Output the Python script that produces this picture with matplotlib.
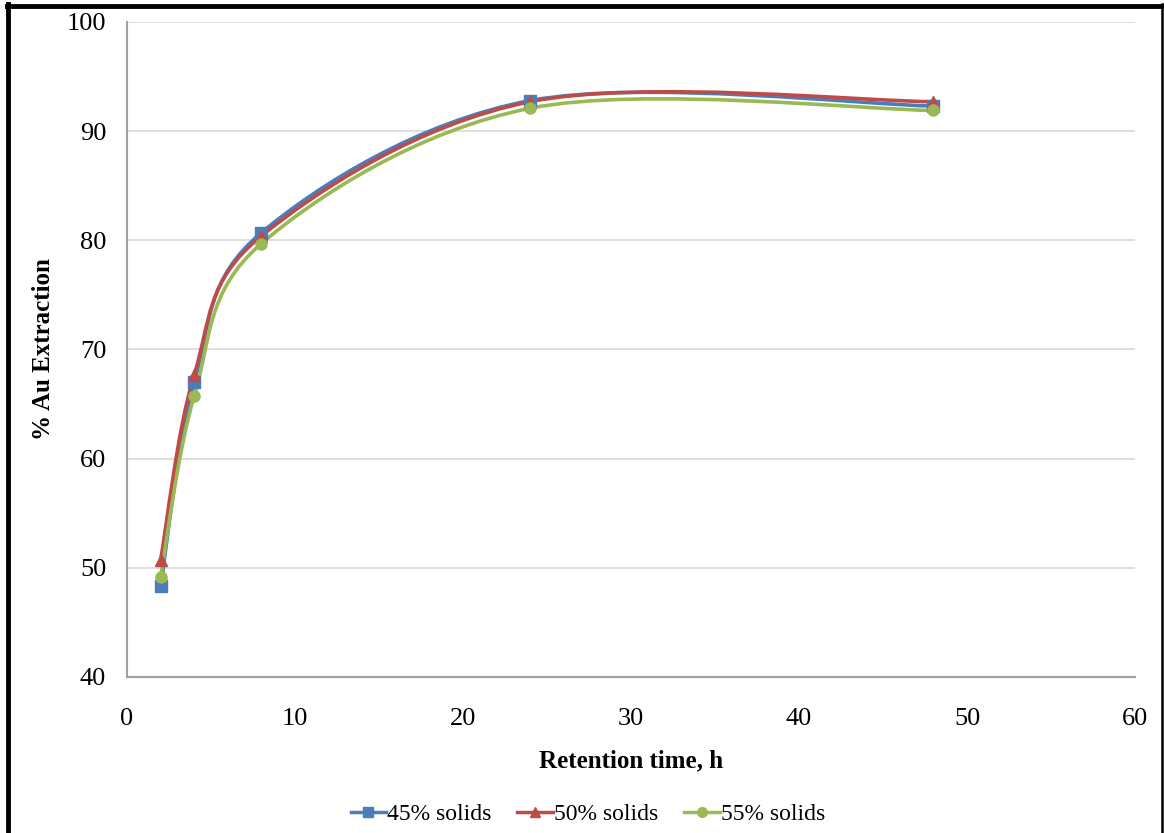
import numpy as np
import matplotlib
matplotlib.use('Agg')
import matplotlib.pyplot as plt
from matplotlib.path import Path
from matplotlib.patches import PathPatch
from matplotlib.lines import Line2D

plt.rcParams['font.family'] = ['Liberation Serif', 'DejaVu Serif']

# retention time (h) and % Au extraction per pulp density
time_h = [2, 4, 8, 24, 48]
solids_45 = [48.3, 67.0, 80.7, 92.8, 92.3]
solids_50 = [50.7, 67.7, 80.4, 92.7, 92.7]
solids_55 = [49.2, 65.7, 79.7, 92.1, 91.9]
series_labels = ['45% solids', '50% solids', '55% solids']


def smooth_path(xs, ys):
    # Excel-like smoothed line: cubic Bezier segments with Catmull-Rom control points
    pts = np.column_stack([xs, ys]).astype(float)
    n = len(pts)
    verts = [pts[0]]
    codes = [Path.MOVETO]
    for i in range(n - 1):
        p0 = pts[i - 1] if i > 0 else pts[i]
        p1 = pts[i]
        p2 = pts[i + 1]
        p3 = pts[i + 2] if i + 2 < n else pts[i + 1]
        c1 = p1 + (p2 - p0) / 6.0
        c2 = p2 - (p3 - p1) / 6.0
        verts += [c1, c2, p2]
        codes += [Path.CURVE4] * 3
    return Path(verts, codes)


fig = plt.figure(figsize=(11.64, 8.33), dpi=100)
ax = fig.add_axes([0.1091, 0.1873, 0.866, 0.7863])

colors = ['#4a7ebb', '#be4b48', '#98b954']
markers = ['s', '^', 'o']
msizes = [8, 9, 8]
data = [solids_45, solids_50, solids_55]

handles = []
for ys, c, m, ms, lab in zip(data, colors, markers, msizes, series_labels):
    patch = PathPatch(smooth_path(time_h, ys), facecolor='none', edgecolor=c,
                      lw=2.6, zorder=3, capstyle='round')
    ax.add_patch(patch)
    ax.plot(time_h, ys, linestyle='none', marker=m, markersize=ms, color=c, zorder=4)
    handles.append(Line2D([], [], color=c, lw=2.5, marker=m, markersize=7, label=lab))

ax.set_xlim(0, 60)
ax.set_ylim(40, 100)
ax.set_xticks(range(0, 61, 10))
ax.set_yticks(range(40, 101, 10))
ax.tick_params(length=0, labelsize=19)
ax.tick_params(axis='x', pad=22)
ax.tick_params(axis='y', pad=15)
ax.grid(axis='y', color='#d9d9d9', lw=1.2)
ax.set_axisbelow(True)
for s in ['top', 'right']:
    ax.spines[s].set_visible(False)
for s in ['left', 'bottom']:
    ax.spines[s].set_color('#a0a0a0')
    ax.spines[s].set_linewidth(1.5)

ax.set_xlabel('Retention time, h', fontsize=18, fontweight='bold', labelpad=14)
ax.set_ylabel('% Au Extraction', fontsize=18, fontweight='bold')
ax.yaxis.set_label_coords(-0.071, 0.5)

fig.legend(handles=handles, loc='lower center', bbox_to_anchor=(0.505, -0.016),
           ncol=3, frameon=False, fontsize=17, handlelength=1.5,
           handletextpad=0.05, columnspacing=1.1)

# outer frame (left, top, right)
fig.add_artist(Line2D([0.0073, 0.0073], [0, 0.995], transform=fig.transFigure, color='black', lw=3.5))
fig.add_artist(Line2D([0.006, 0.999], [0.9922, 0.9922], transform=fig.transFigure, color='black', lw=3.5))
fig.add_artist(Line2D([0.9985, 0.9985], [0, 0.995], transform=fig.transFigure, color='black', lw=1.8))

fig.savefig('out.png', dpi=100)
